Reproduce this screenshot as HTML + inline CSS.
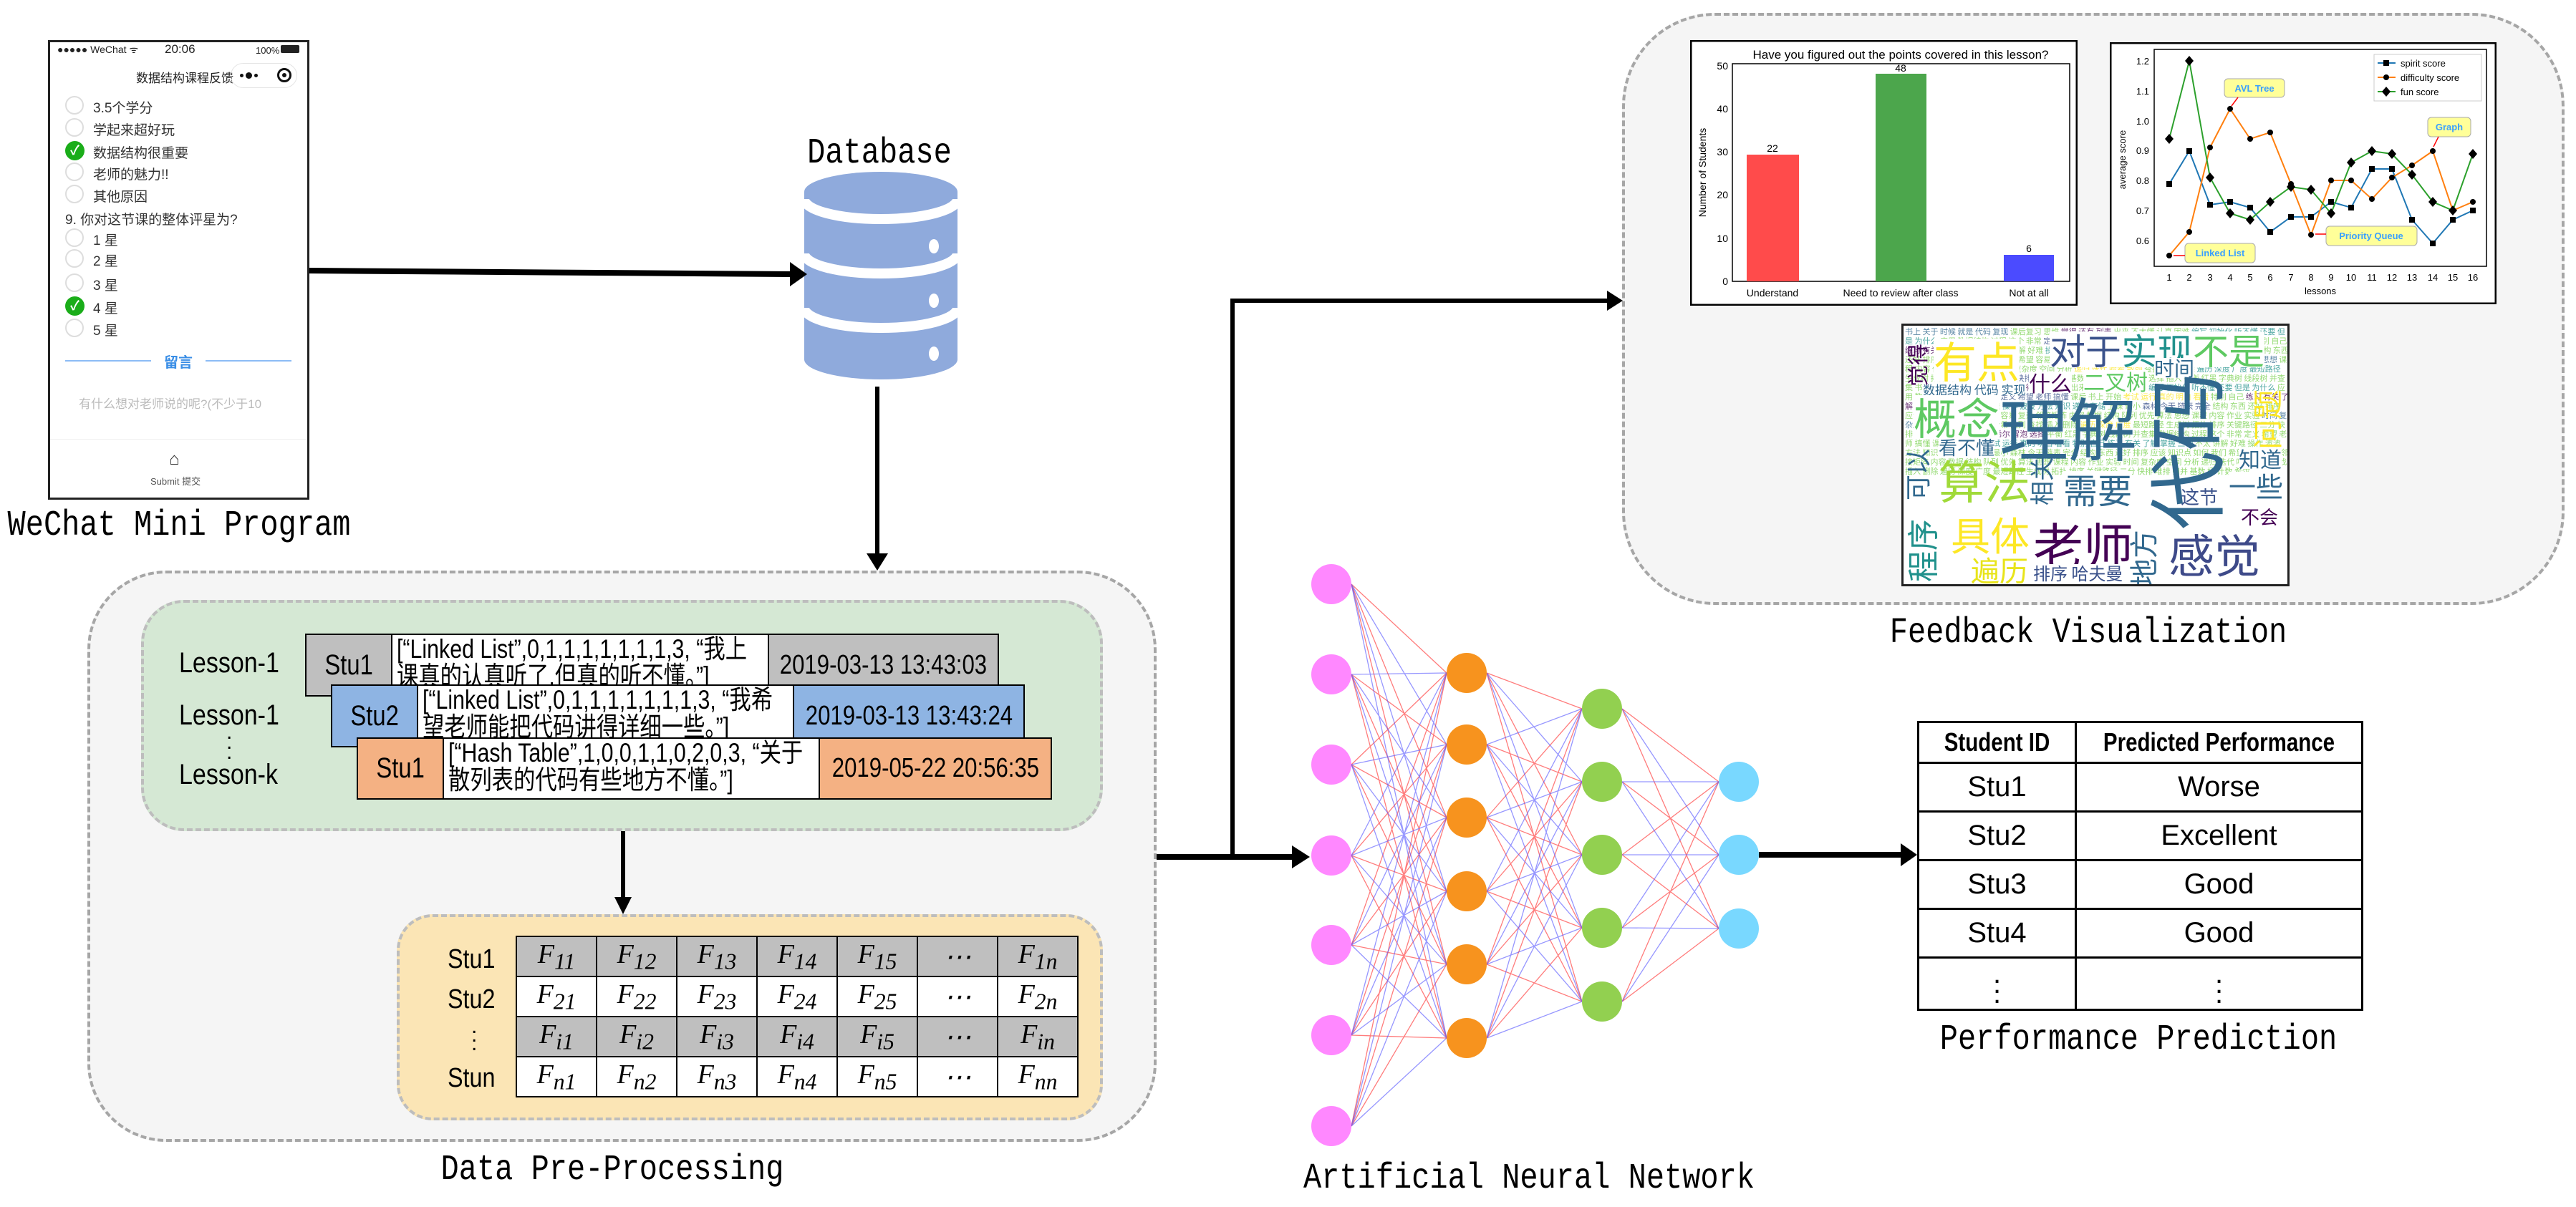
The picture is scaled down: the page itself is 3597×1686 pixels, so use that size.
<!DOCTYPE html>
<html><head><meta charset="utf-8">
<style>
*{margin:0;padding:0;box-sizing:border-box}
body{width:3597px;height:1686px;background:#fff;position:relative;overflow:hidden;font-family:"Liberation Sans","Noto Sans CJK SC",sans-serif}
.a{position:absolute}
.lbl{position:absolute;font-family:"Liberation Mono","DejaVu Sans Mono",monospace;font-size:42px;color:#000;white-space:nowrap;transform:translateX(-50%) scaleY(1.2)}
.sq{display:inline-block;white-space:nowrap;transform:scaleX(.82);transform-origin:left top}
.sqc{display:block;white-space:nowrap;transform:scaleX(.82);transform-origin:center}
.fc{display:flex;justify-content:center;align-items:center;height:100%;white-space:nowrap}
.fc span{flex:none;transform:scaleX(.82)}
.ph{font-size:19px;color:#333;white-space:nowrap}
.rc{position:absolute;width:26px;height:26px;border-radius:50%;border:2px solid #ddd;background:#fff}
.rk{position:absolute;width:27px;height:27px;border-radius:50%;background:#1aad19;color:#fff;font-size:18px;text-align:center;line-height:27px;font-weight:bold}
.cell{position:absolute;border:2px solid #000;overflow:hidden}
.rec{font-size:37px;line-height:38px;padding:1px 6px;white-space:nowrap}
.mx td{border:2px solid #000;width:112px;height:56px;text-align:center;font-family:"Liberation Serif",serif;font-style:italic;font-size:38px}
.mx{border-collapse:collapse;position:absolute;left:720px;top:1307px}
.pt{border-collapse:collapse;position:absolute;left:2677px;top:1007px}
.pt td{border:3px solid #000;text-align:center;font-size:40px;height:68px}
.w{position:absolute;white-space:nowrap;line-height:1}
.ll{position:absolute;font-size:40px;white-space:nowrap;transform:scaleX(.85);transform-origin:left top}
</style></head><body>

<!-- Phone -->
<div class="a" style="left:67px;top:56px;width:365px;height:642px;border:3px solid #222;background:#fff"></div>
<div class="a" style="left:80px;top:60px;font-size:14px;color:#222">●●●●● WeChat ᯤ</div>
<div class="a" style="left:230px;top:59px;font-size:17px;color:#222">20:06</div>
<div class="a" style="left:357px;top:63px;font-size:13px;color:#222">100%</div>
<div class="a" style="left:392px;top:63px;width:26px;height:11px;background:#222;border-radius:2px"></div>
<div class="a" style="left:190px;top:95px;font-size:17px;color:#222">数据结构课程反馈</div>
<div class="a" style="left:322px;top:88px;width:93px;height:35px;border:1px solid #e5e5e5;border-radius:18px"></div>
<div class="a" style="left:335px;top:103px;width:5px;height:5px;background:#111;border-radius:50%"></div>
<div class="a" style="left:343px;top:101px;width:9px;height:9px;background:#111;border-radius:50%"></div>
<div class="a" style="left:355px;top:103px;width:5px;height:5px;background:#111;border-radius:50%"></div>
<div class="a" style="left:387px;top:95px;width:20px;height:20px;border:3px solid #111;border-radius:50%"></div>
<div class="a" style="left:394px;top:102px;width:6px;height:6px;background:#111;border-radius:50%"></div>
<div class="rc" style="left:91px;top:134px"></div><div class="a ph" style="left:130px;top:136px">3.5个学分</div>
<div class="rc" style="left:91px;top:165px"></div><div class="a ph" style="left:130px;top:167px">学起来超好玩</div>
<div class="rk" style="left:91px;top:197px">✓</div><div class="a ph" style="left:130px;top:199px">数据结构很重要</div>
<div class="rc" style="left:91px;top:227px"></div><div class="a ph" style="left:130px;top:229px">老师的魅力!!</div>
<div class="rc" style="left:91px;top:258px"></div><div class="a ph" style="left:130px;top:260px">其他原因</div>
<div class="a ph" style="left:91px;top:292px">9. 你对这节课的整体评星为?</div>
<div class="rc" style="left:91px;top:319px"></div><div class="a ph" style="left:130px;top:321px">1 星</div>
<div class="rc" style="left:91px;top:348px"></div><div class="a ph" style="left:130px;top:350px">2 星</div>
<div class="rc" style="left:91px;top:382px"></div><div class="a ph" style="left:130px;top:384px">3 星</div>
<div class="rk" style="left:91px;top:414px">✓</div><div class="a ph" style="left:130px;top:416px">4 星</div>
<div class="rc" style="left:91px;top:445px"></div><div class="a ph" style="left:130px;top:447px">5 星</div>
<div class="a" style="left:91px;top:503px;width:120px;height:2px;background:#8cbcf5"></div>
<div class="a" style="left:287px;top:503px;width:120px;height:2px;background:#8cbcf5"></div>
<div class="a" style="left:229px;top:490px;font-size:20px;color:#3a8ee6;font-weight:bold">留言</div>
<div class="a" style="left:110px;top:550px;font-size:17px;color:#bbb">有什么想对老师说的呢?(不少于10</div>
<div class="a" style="left:70px;top:613px;width:359px;height:1px;background:#eee"></div>
<div class="a" style="left:236px;top:628px;font-size:24px;color:#333">⌂</div>
<div class="a" style="left:210px;top:662px;font-size:13px;color:#555">Submit 提交</div>
<div class="lbl" style="left:250px;top:710px">WeChat Mini Program</div>

<!-- Database -->
<div class="lbl" style="left:1228px;top:190px">Database</div>
<svg class="a" style="left:1120px;top:240px" width="220" height="300">
 <path d="M3 28 V262 A107 28 0 0 0 217 262 V28 Z" fill="#8faadc"/>
 <ellipse cx="110" cy="28" rx="107" ry="28" fill="#8faadc"/>
 <path d="M3 38 A107 28 0 0 0 217 38" stroke="#fff" stroke-width="14" fill="none"/>
 <path d="M3 114 A107 28 0 0 0 217 114" stroke="#fff" stroke-width="14" fill="none"/>
 <path d="M3 190 A107 28 0 0 0 217 190" stroke="#fff" stroke-width="14" fill="none"/>
 <ellipse cx="184" cy="104" rx="7" ry="10" fill="#fff"/>
 <ellipse cx="184" cy="180" rx="7" ry="10" fill="#fff"/>
 <ellipse cx="184" cy="254" rx="7" ry="10" fill="#fff"/>
</svg>

<!-- Data preprocessing -->
<div class="a" style="left:122px;top:797px;width:1493px;height:798px;background:#f5f5f5;border:4px dashed #a6a6a6;border-radius:110px"></div>
<div class="a" style="left:197px;top:838px;width:1343px;height:323px;background:#d5e8d4;border:4px dashed #bdbdbd;border-radius:60px"></div>
<div class="ll" style="left:250px;top:904px">Lesson-1</div>
<div class="ll" style="left:250px;top:977px">Lesson-1</div>
<div class="a" style="left:316px;top:1016px;font-size:30px;line-height:14px">.<br>.<br>.</div>
<div class="ll" style="left:250px;top:1060px">Lesson-k</div>

<div class="cell" style="left:426px;top:885px;width:122px;height:88px;background:#bfbfbf"><div class="fc" style="font-size:40px"><span>Stu1</span></div></div>
<div class="cell" style="left:546px;top:885px;width:528px;height:88px;background:#fff"><div class="rec"><span class="sq">[“Linked List”,0,1,1,1,1,1,1,1,3, “我上<br>课真的认真听了,但真的听不懂。”]</span></div></div>
<div class="cell" style="left:1072px;top:885px;width:323px;height:88px;background:#bfbfbf"><div class="fc" style="font-size:38px"><span>2019-03-13 13:43:03</span></div></div>

<div class="cell" style="left:462px;top:956px;width:122px;height:88px;background:#8eb4e3"><div class="fc" style="font-size:40px"><span>Stu2</span></div></div>
<div class="cell" style="left:582px;top:956px;width:527px;height:88px;background:#fff"><div class="rec"><span class="sq">[“Linked List”,0,1,1,1,1,1,1,1,3, “我希<br>望老师能把代码讲得详细一些。”]</span></div></div>
<div class="cell" style="left:1107px;top:956px;width:324px;height:88px;background:#8eb4e3"><div class="fc" style="font-size:38px"><span>2019-03-13 13:43:24</span></div></div>

<div class="cell" style="left:498px;top:1030px;width:122px;height:87px;background:#f4b183"><div class="fc" style="font-size:40px"><span>Stu1</span></div></div>
<div class="cell" style="left:618px;top:1030px;width:527px;height:87px;background:#fff"><div class="rec"><span class="sq">[“Hash Table”,1,0,0,1,1,0,2,0,3, “关于<br>散列表的代码有些地方不懂。”]</span></div></div>
<div class="cell" style="left:1143px;top:1030px;width:326px;height:87px;background:#f4b183"><div class="fc" style="font-size:38px"><span>2019-05-22 20:56:35</span></div></div>

<div class="a" style="left:554px;top:1277px;width:986px;height:288px;background:#fbe5b5;border:4px dashed #bdbdbd;border-radius:50px"></div>
<div class="ll" style="left:625px;top:1319px;font-size:38px">Stu1</div>
<div class="ll" style="left:625px;top:1375px;font-size:38px">Stu2</div>
<div class="a" style="left:658px;top:1428px;font-size:30px;line-height:12px">.<br>.<br>.</div>
<div class="ll" style="left:625px;top:1485px;font-size:38px">Stun</div>
<table class="mx">
<tr style="background:#bfbfbf"><td>F<sub>11</sub></td><td>F<sub>12</sub></td><td>F<sub>13</sub></td><td>F<sub>14</sub></td><td>F<sub>15</sub></td><td>⋯</td><td>F<sub>1n</sub></td></tr>
<tr style="background:#fff"><td>F<sub>21</sub></td><td>F<sub>22</sub></td><td>F<sub>23</sub></td><td>F<sub>24</sub></td><td>F<sub>25</sub></td><td>⋯</td><td>F<sub>2n</sub></td></tr>
<tr style="background:#bfbfbf"><td>F<sub>i1</sub></td><td>F<sub>i2</sub></td><td>F<sub>i3</sub></td><td>F<sub>i4</sub></td><td>F<sub>i5</sub></td><td>⋯</td><td>F<sub>in</sub></td></tr>
<tr style="background:#fff"><td>F<sub>n1</sub></td><td>F<sub>n2</sub></td><td>F<sub>n3</sub></td><td>F<sub>n4</sub></td><td>F<sub>n5</sub></td><td>⋯</td><td>F<sub>nn</sub></td></tr>
</table>
<div class="lbl" style="left:855px;top:1610px">Data Pre-Processing</div>

<!-- Feedback visualization -->
<div class="a" style="left:2265px;top:18px;width:1316px;height:827px;background:#f5f5f5;border:4px dashed #a6a6a6;border-radius:130px"></div>
<svg class="a" style="left:2360px;top:56px" width="541" height="371" font-family="Liberation Sans,sans-serif">
 <rect x="1" y="1" width="539" height="369" fill="#fff" stroke="#000" stroke-width="3"/>
 <text x="294" y="26" font-size="17" text-anchor="middle">Have you figured out the points covered in this lesson?</text>
 <rect x="59" y="33" width="471" height="304" fill="none" stroke="#000" stroke-width="1.5"/>
 <rect x="79" y="160" width="73" height="177" fill="#ff4b4b"/>
 <rect x="259" y="47" width="71" height="290" fill="#4ca64c"/>
 <rect x="438" y="300" width="70" height="37" fill="#4b4bff"/>
 <g font-size="14" text-anchor="middle"><text x="115" y="156">22</text><text x="294" y="44">48</text><text x="473" y="296">6</text>
 <text x="115" y="358">Understand</text><text x="294" y="358">Need to review after class</text><text x="473" y="358">Not at all</text></g>
 <g font-size="14" text-anchor="end"><text x="53" y="342">0</text><text x="53" y="282">10</text><text x="53" y="221">20</text><text x="53" y="161">30</text><text x="53" y="101">40</text><text x="53" y="41">50</text></g>
 <text transform="translate(22,185) rotate(-90)" font-size="14" text-anchor="middle">Number of Students</text>
</svg>
<svg class="a" style="left:2946px;top:59px" width="540" height="366" font-family="Liberation Sans,sans-serif">
 <rect x="1" y="1" width="538" height="364" fill="#fff" stroke="#000" stroke-width="3"/>
 <g transform="translate(-2946,-59)">
 <rect x="3008" y="69" width="464" height="303" fill="none" stroke="#000" stroke-width="1.5"/>
 <g font-size="13" text-anchor="end"><text x="3001" y="90">1.2</text><text x="3001" y="132">1.1</text><text x="3001" y="174">1.0</text><text x="3001" y="215">0.9</text><text x="3001" y="257">0.8</text><text x="3001" y="299">0.7</text><text x="3001" y="341">0.6</text></g>
 <g font-size="13" text-anchor="middle"><text x="3029" y="392">1</text><text x="3057" y="392">2</text><text x="3086" y="392">3</text><text x="3114" y="392">4</text><text x="3142" y="392">5</text><text x="3170" y="392">6</text><text x="3199" y="392">7</text><text x="3227" y="392">8</text><text x="3255" y="392">9</text><text x="3283" y="392">10</text><text x="3312" y="392">11</text><text x="3340" y="392">12</text><text x="3368" y="392">13</text><text x="3397" y="392">14</text><text x="3425" y="392">15</text><text x="3453" y="392">16</text>
 <text x="3240" y="411">lessons</text></g>
 <text transform="translate(2968,223) rotate(-90)" font-size="13" text-anchor="middle">average score</text>
 <polyline fill="none" stroke="#1f77b4" stroke-width="2" points="3029,257 3057,211 3086,286 3114,282 3142,290 3170,324 3199,303 3227,303 3255,282 3283,290 3312,236 3340,236 3368,307 3397,340 3425,307 3453,294"/>
 <polyline fill="none" stroke="#ff7f0e" stroke-width="2" points="3029,357 3057,324 3086,206 3114,152 3142,194 3170,185 3199,257 3227,328 3255,252 3283,252 3312,278 3340,248 3368,231 3397,211 3425,294 3453,282"/>
 <polyline fill="none" stroke="#2ca02c" stroke-width="2" points="3029,194 3057,85 3086,248 3114,298 3142,307 3170,282 3199,261 3227,265 3255,298 3283,227 3312,211 3340,215 3368,244 3397,282 3425,294 3453,215"/>
 <g fill="#000">
 <path d="M3025 253h8v8h-8zM3053 207h8v8h-8zM3082 282h8v8h-8zM3110 278h8v8h-8zM3138 286h8v8h-8zM3166 320h8v8h-8zM3195 299h8v8h-8zM3223 299h8v8h-8zM3251 278h8v8h-8zM3279 286h8v8h-8zM3308 232h8v8h-8zM3336 232h8v8h-8zM3364 303h8v8h-8zM3393 336h8v8h-8zM3421 303h8v8h-8zM3449 290h8v8h-8z"/>
 <circle cx="3029" cy="357" r="4"/><circle cx="3057" cy="324" r="4"/><circle cx="3086" cy="206" r="4"/><circle cx="3114" cy="152" r="4"/><circle cx="3142" cy="194" r="4"/><circle cx="3170" cy="185" r="4"/><circle cx="3199" cy="257" r="4"/><circle cx="3227" cy="328" r="4"/><circle cx="3255" cy="252" r="4"/><circle cx="3283" cy="252" r="4"/><circle cx="3312" cy="278" r="4"/><circle cx="3340" cy="248" r="4"/><circle cx="3368" cy="231" r="4"/><circle cx="3397" cy="211" r="4"/><circle cx="3425" cy="294" r="4"/><circle cx="3453" cy="282" r="4"/>
 <path d="M3029 187l6 7-6 7-6-7zM3057 78l6 7-6 7-6-7zM3086 241l6 7-6 7-6-7zM3114 291l6 7-6 7-6-7zM3142 300l6 7-6 7-6-7zM3170 275l6 7-6 7-6-7zM3199 254l6 7-6 7-6-7zM3227 258l6 7-6 7-6-7zM3255 291l6 7-6 7-6-7zM3283 220l6 7-6 7-6-7zM3312 204l6 7-6 7-6-7zM3340 208l6 7-6 7-6-7zM3368 237l6 7-6 7-6-7zM3397 275l6 7-6 7-6-7zM3425 287l6 7-6 7-6-7zM3453 208l6 7-6 7-6-7z"/>
 </g>
 <rect x="3315" y="76" width="150" height="65" fill="#fff" stroke="#ccc"/>
 <g stroke-width="2"><line x1="3320" y1="88" x2="3345" y2="88" stroke="#1f77b4"/><line x1="3320" y1="108" x2="3345" y2="108" stroke="#ff7f0e"/><line x1="3320" y1="128" x2="3345" y2="128" stroke="#2ca02c"/></g>
 <rect x="3328" y="84" width="8" height="8"/><circle cx="3332" cy="108" r="4"/><path d="M3332 121l6 7-6 7-6-7z"/>
 <g font-size="13"><text x="3352" y="93">spirit score</text><text x="3352" y="113">difficulty score</text><text x="3352" y="133">fun score</text></g>
 <g fill="#ffff99" stroke="#aaa"><rect x="3106" y="110" width="84" height="26" rx="5"/><rect x="3390" y="164" width="60" height="27" rx="5"/><rect x="3248" y="316" width="127" height="27" rx="5"/><rect x="3051" y="340" width="98" height="27" rx="5"/></g>
 <g font-size="13" fill="#3aa0ff" font-weight="bold" text-anchor="middle"><text x="3148" y="128">AVL Tree</text><text x="3420" y="182">Graph</text><text x="3311" y="334">Priority Queue</text><text x="3100" y="358">Linked List</text></g>
 <g stroke="#f00" stroke-width="1.5"><line x1="3125" y1="136" x2="3116" y2="148"/><line x1="3405" y1="191" x2="3398" y2="205"/><line x1="3248" y1="327" x2="3233" y2="327"/><line x1="3051" y1="357" x2="3035" y2="357"/></g>
 </g>
</svg>

<!-- Word cloud -->
<div class="a" style="left:2655px;top:452px;width:542px;height:367px;background:#fff;border:3px solid #222;overflow:hidden;font-family:'Noto Sans CJK SC',sans-serif">
 <div class="w" style="left:2px;top:2px;font-size:11px;line-height:13px;white-space:normal;width:536px;word-break:break-all;color:#7ad151;opacity:.8">
 <span style="color:#31688e">书上 关于 时候 就是 代码 复现</span> 课后复习 思维 <span style="color:#440154">觉得 还有 列表</span> 出来 不太懂 认真 困难 <span style="color:#21918c">编写 初始化 听不懂 还要 但是 为什么</span> 应用 数据结构 过程 这个 非常 <span style="color:#3b528b">定义 希望 老师 搞懂</span> 课后 书上 开始 <span style="color:#fde725">考试 运行 真的 明白 看看</span> 特别 自己 <span style="color:#440154">练习 有关 了解 掌握</span> 三种 不太 讲解 好难 <span style="color:#21918c">操作 波波 方法 知识 递归 存储</span> 上课 最小 <span style="color:#3b528b">森林 今天 链表 完全</span> 结构 东西 <span style="color:#7ad151">还好 排序 应该 知识点 如何 我们 希望 容易 复杂 邻接矩阵 内容</span> 书上 代码 复现 <span style="color:#31688e">数据 结构 队列 优先 算法 思想</span> 课程 内容 作业 实验 <span style="color:#440154">图 树 栈</span> 时间 复杂度 空间 分析 <span style="color:#fde725">递归 迭代 哈希 散列</span> 查找 插入 删除 <span style="color:#21918c">遍历 深度 广度 最短路径</span> 生成树 拓扑 排序 关键路径 <span style="color:#3b528b">二分 快排 堆排 归并</span> 基数 桶 计数 希尔 冒泡 选择 插入 <span style="color:#7ad151">平衡 红黑 字典树 线段树</span> 并查集 书上 代码 复现 课后复习 思维 <span style="color:#440154">觉得 还有 列表</span> 出来 不太懂 认真 困难 <span style="color:#21918c">编写 初始化 听不懂 还要 但是 为什么</span> 应用 数据结构 过程 这个 非常 <span style="color:#3b528b">定义 希望 老师 搞懂</span> 课后 书上 开始 <span style="color:#fde725">考试 运行 真的 明白 看看</span> 特别 自己 <span style="color:#440154">练习 有关 了解 掌握</span> 三种 不太 讲解 好难 <span style="color:#21918c">操作 波波 方法 知识 递归 存储</span> 上课 最小 <span style="color:#3b528b">森林 今天 链表 完全</span> 结构 东西 <span style="color:#7ad151">还好 排序 应该 知识点 如何 我们 希望 容易 复杂 邻接矩阵 内容</span> 数据 结构 队列 优先 算法 思想 课程 内容 作业 实验 <span style="color:#31688e">时间 复杂度 空间 分析</span> 递归 迭代 哈希 散列 查找 插入 删除 <span style="color:#fde725">遍历 深度 广度</span> 最短路径 生成树 拓扑 排序 关键路径 二分 快排 堆排 归并 <span style="color:#440154">基数 桶 计数 希尔 冒泡 选择</span> 平衡 红黑 字典树 线段树 并查集 数据结构 过程 这个 非常 定义 希望 老师 搞懂 课后 书上 开始 <span style="color:#21918c">考试 运行 真的 明白 看看 特别 自己 练习 有关 了解 掌握 三种</span> 不太 讲解 好难 操作 波波 方法 知识 递归 存储 上课 最小 森林 今天 链表 完全 结构 东西 还好 排序 应该 知识点 如何 我们 希望 容易 复杂 邻接矩阵 内容 数据 结构 队列 优先 算法 思想 课程 内容 作业 实验 时间 复杂度 空间 分析 递归 迭代 哈希 散列 查找 插入 删除 遍历 深度 广度 最短路径 生成树 拓扑 排序 关键路径 二分 快排 堆排 归并 基数 桶 计数 希尔
 </div>
 <div class="w" style="left:42px;top:18px;font-size:60px;color:#fde725;background:#fff">有点</div>
 <div class="w" style="left:204px;top:8px;font-size:50px;background:#fff"><span style="color:#3b528b">对于</span><span style="color:#21918c">实现</span><span style="color:#5ec962">不是</span></div>
 <div class="w" style="left:251px;top:62px;font-size:30px;color:#5ec962;background:#fff">二叉树</div>
 <div class="w" style="left:175px;top:64px;font-size:30px;color:#440154;background:#fff">什么</div>
 <div class="w" style="left:27px;top:80px;font-size:17px;color:#31688e;background:#fff">数据结构 代码 实现</div>
 <div class="w" style="left:14px;top:97px;font-size:60px;color:#5ec962;background:#fff">概念</div>
 <div class="w" style="left:134px;top:92px;font-size:96px;color:#31688e">理解</div>
 <div class="w" style="left:49px;top:157px;font-size:26px;color:#31688e;background:#fff">看不懂</div>
 <div class="w" style="left:49px;top:183px;font-size:64px;color:#a0da39">算法</div>
 <div class="w" style="left:223px;top:203px;font-size:48px;color:#31688e;background:#fff">需要</div>
 <div class="w" style="left:66px;top:263px;font-size:55px;color:#fde725">具体</div>
 <div class="w" style="left:94px;top:320px;font-size:40px;color:#e8e419;background:#fff">遍历</div>
 <div class="w" style="left:181px;top:270px;font-size:70px;color:#440154">老师</div>
 <div class="w" style="left:181px;top:333px;font-size:24px;color:#3b528b;background:#fff">排序 哈夫曼</div>
 <div class="w" style="left:370px;top:286px;font-size:64px;color:#3e4a89">感觉</div>
 <div class="w" style="left:468px;top:170px;font-size:30px;color:#31688e;background:#fff">知道</div>
 <div class="w" style="left:454px;top:204px;font-size:38px;color:#31688e;background:#fff">一些</div>
 <div class="w" style="left:387px;top:226px;font-size:26px;color:#3b528b;background:#fff">这节</div>
 <div class="w" style="left:471px;top:254px;font-size:26px;color:#440154;background:#fff">不会</div>
 <div class="w" style="left:350px;top:45px;font-size:28px;color:#31688e;background:#fff">时间</div>
 <div class="w" style="left:279px;top:120px;font-size:110px;color:#31688e;transform:rotate(-90deg);transform-origin:center">代码</div>
 <div class="w" style="left:-20px;top:292px;font-size:44px;color:#21918c;transform:rotate(-90deg)">程序</div>
 <div class="w" style="left:-18px;top:190px;font-size:36px;color:#31688e;transform:rotate(-90deg)">可以</div>
 <div class="w" style="left:-12px;top:40px;font-size:30px;color:#440154;transform:rotate(-90deg)">觉得</div>
 <div class="w" style="left:465px;top:110px;font-size:42px;color:#fde725;transform:rotate(-90deg)">问题</div>
 <div class="w" style="left:293px;top:305px;font-size:40px;color:#31688e;transform:rotate(-90deg)">地方</div>
 <div class="w" style="left:158px;top:200px;font-size:34px;color:#31688e;transform:rotate(-90deg)">相关</div>
</div>
<div class="lbl" style="left:2916px;top:860px">Feedback Visualization</div>

<!-- Arrows & NN -->
<svg class="a" style="left:0;top:0" width="3597" height="1686">
 <g stroke="#000" fill="none">
 <line x1="432" y1="378" x2="1105" y2="383" stroke-width="8"/>
 <line x1="1225" y1="540" x2="1225" y2="776" stroke-width="6"/>
 <line x1="870" y1="1161" x2="870" y2="1256" stroke-width="6"/>
 <line x1="1615" y1="1197" x2="1806" y2="1197" stroke-width="8"/>
 <polyline points="1721,1197 1721,420 2246,420" stroke-width="6"/>
 <line x1="2456" y1="1194" x2="2655" y2="1194" stroke-width="8"/>
 </g>
 <g fill="#000">
 <polygon points="1103,366 1127,383 1103,400"/>
 <polygon points="1210,773 1225,797 1240,773"/>
 <polygon points="858,1253 870,1277 882,1253"/>
 <polygon points="1804,1181 1829,1197 1804,1213"/>
 <polygon points="2244,406 2266,420 2244,434"/>
 <polygon points="2654,1178 2677,1194 2654,1210"/>
 </g>
 <g stroke-width="1.3" fill="none">
 <path stroke="#ff5050" stroke-opacity=".75" d="M1887 816L2020 940M1887 816L2020 1142M1887 816L2020 1347M1887 942L2020 1040M1887 942L2020 1245M1887 942L2020 1450M1887 1068L2020 940M1887 1068L2020 1142M1887 1068L2020 1347M1887 1195L2020 1040M1887 1195L2020 1245M1887 1195L2020 1450M1887 1320L2020 940M1887 1320L2020 1142M1887 1320L2020 1347M1887 1446L2020 1040M1887 1446L2020 1245M1887 1446L2020 1450M1887 1573L2020 940M1887 1573L2020 1142M1887 1573L2020 1347"/>
 <path stroke="#5050ff" stroke-opacity=".6" d="M1887 816L2020 1040M1887 816L2020 1245M1887 816L2020 1450M1887 942L2020 940M1887 942L2020 1142M1887 942L2020 1347M1887 1068L2020 1040M1887 1068L2020 1245M1887 1068L2020 1450M1887 1195L2020 940M1887 1195L2020 1142M1887 1195L2020 1347M1887 1320L2020 1040M1887 1320L2020 1245M1887 1320L2020 1450M1887 1446L2020 940M1887 1446L2020 1142M1887 1446L2020 1347M1887 1573L2020 1040M1887 1573L2020 1245M1887 1573L2020 1450"/>
 <path stroke="#ff5050" stroke-opacity=".75" d="M2076 940L2209 990M2076 940L2209 1194M2076 940L2209 1399M2076 1040L2209 1092M2076 1040L2209 1296M2076 1142L2209 990M2076 1142L2209 1194M2076 1142L2209 1399M2076 1245L2209 1092M2076 1245L2209 1296M2076 1347L2209 990M2076 1347L2209 1194M2076 1347L2209 1399M2076 1450L2209 1092M2076 1450L2209 1296"/>
 <path stroke="#5050ff" stroke-opacity=".6" d="M2076 940L2209 1092M2076 940L2209 1296M2076 1040L2209 990M2076 1040L2209 1194M2076 1040L2209 1399M2076 1142L2209 1092M2076 1142L2209 1296M2076 1245L2209 990M2076 1245L2209 1194M2076 1245L2209 1399M2076 1347L2209 1092M2076 1347L2209 1296M2076 1450L2209 990M2076 1450L2209 1194M2076 1450L2209 1399"/>
 <path stroke="#ff5050" stroke-opacity=".75" d="M2265 990L2400 1092M2265 990L2400 1297M2265 1092L2400 1194M2265 1194L2400 1092M2265 1194L2400 1297M2265 1296L2400 1194M2265 1399L2400 1092M2265 1399L2400 1297"/>
 <path stroke="#5050ff" stroke-opacity=".6" d="M2265 990L2400 1194M2265 1092L2400 1092M2265 1092L2400 1297M2265 1194L2400 1194M2265 1296L2400 1092M2265 1296L2400 1297M2265 1399L2400 1194"/>
 </g>
 <g fill="#ff88ff"><circle cx="1859" cy="816" r="28"/><circle cx="1859" cy="942" r="28"/><circle cx="1859" cy="1068" r="28"/><circle cx="1859" cy="1195" r="28"/><circle cx="1859" cy="1320" r="28"/><circle cx="1859" cy="1446" r="28"/><circle cx="1859" cy="1573" r="28"/></g>
 <g fill="#f7931e"><circle cx="2048" cy="940" r="28"/><circle cx="2048" cy="1040" r="28"/><circle cx="2048" cy="1142" r="28"/><circle cx="2048" cy="1245" r="28"/><circle cx="2048" cy="1347" r="28"/><circle cx="2048" cy="1450" r="28"/></g>
 <g fill="#92d050"><circle cx="2237" cy="990" r="28"/><circle cx="2237" cy="1092" r="28"/><circle cx="2237" cy="1194" r="28"/><circle cx="2237" cy="1296" r="28"/><circle cx="2237" cy="1399" r="28"/></g>
 <g fill="#79d8ff"><circle cx="2428" cy="1092" r="28"/><circle cx="2428" cy="1194" r="28"/><circle cx="2428" cy="1297" r="28"/></g>
</svg>
<div class="lbl" style="left:2135px;top:1622px">Artificial Neural Network</div>

<!-- Prediction table -->
<table class="pt">
<tr><td style="width:220px;height:57px;font-weight:bold;font-size:36px"><span class="sqc">Student ID</span></td><td style="width:400px;height:57px;font-weight:bold;font-size:36px"><span class="sqc">Predicted Performance</span></td></tr>
<tr><td>Stu1</td><td>Worse</td></tr>
<tr><td>Stu2</td><td>Excellent</td></tr>
<tr><td>Stu3</td><td>Good</td></tr>
<tr><td>Stu4</td><td>Good</td></tr>
<tr><td style="height:73px;line-height:14px">.<br>.<br>.</td><td style="height:73px;line-height:14px">.<br>.<br>.</td></tr>
</table>
<div class="lbl" style="left:2986px;top:1428px">Performance Prediction</div>
</body></html>
